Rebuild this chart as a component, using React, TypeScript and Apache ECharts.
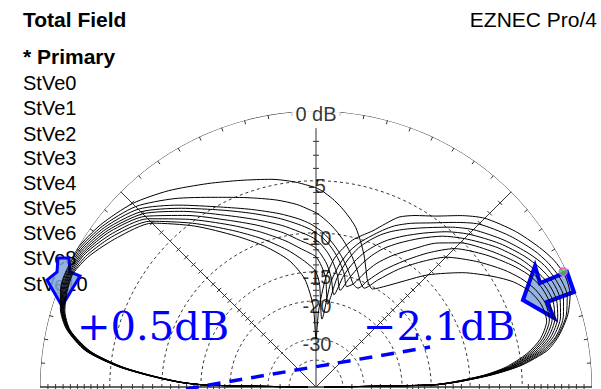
import React, { useEffect, useRef } from 'react';
import * as echarts from 'echarts';

// Elevation angle sampled along the half plot: 0 = left horizon, 90 = zenith, 180 = right horizon
const ELEVATION_ANGLES = [0, 1, 2, 4, 6, 9, 13, 17, 21, 25, 30, 37, 45, 53, 62, 70, 78, 84, 88, 90, 92, 95, 98, 101, 104, 107, 110, 113, 116, 120, 125, 130, 135, 142, 148, 152, 156, 160, 164, 168, 171, 174, 176, 178, 179, 180];

// Total field in dB for each trace
const STVE0_DB = [-60, -15.8, -12.0, -8.4, -5.5, -2.85, -1.3, -0.55, -0.15, 0.0, 0.0, -0.4, -1.06, -2.0, -3.1, -3.9, -4.5, -5.0, -5.4, -5.6, -5.9, -6.5, -7.2, -8.0, -8.9, -10.2, -11.6, -13.2, -14.6, -15.3, -13.8, -11.8, -9.5, -6.8, -4.8, -3.6, -2.8, -2.4, -2.4, -3.2, -4.4, -6.3, -8.5, -12.2, -15.2, -60];
const STVE1_DB = [-60, -15.9, -12.05, -8.45, -5.55, -2.9, -1.33, -0.6, -0.2, -0.06, -0.1, -0.55, -1.35, -2.7, -4.3, -5.4, -6.3, -7.0, -7.6, -7.9, -8.3, -9.0, -9.8, -10.7, -11.7, -12.8, -14.0, -15.2, -15.8, -13.8, -11.2, -9.0, -7.0, -5.2, -3.8, -3.0, -2.4, -2.1, -2.2, -3.0, -4.2, -6.1, -8.4, -12.1, -15.1, -60];
const STVE2_DB = [-60, -15.95, -12.1, -8.5, -5.6, -2.95, -1.36, -0.63, -0.26, -0.13, -0.2, -0.7, -1.6, -3.3, -5.2, -6.5, -7.6, -8.4, -9.0, -9.4, -9.8, -10.6, -11.5, -12.5, -13.6, -14.8, -15.9, -16.2, -14.5, -12.3, -10.0, -7.8, -5.9, -4.3, -3.1, -2.4, -1.95, -1.8, -2.0, -2.8, -4.0, -5.9, -8.3, -12.0, -15.0, -60];
const STVE3_DB = [-60, -16.0, -12.15, -8.55, -5.65, -3.0, -1.4, -0.67, -0.32, -0.19, -0.3, -0.85, -1.85, -3.6, -5.5, -6.9, -8.1, -9.0, -9.6, -10.0, -10.4, -11.2, -12.2, -13.4, -14.8, -16.6, -15.8, -13.8, -12.0, -10.3, -8.5, -6.6, -5.2, -3.8, -2.7, -2.1, -1.7, -1.55, -1.8, -2.6, -3.8, -5.8, -8.2, -11.9, -14.9, -60];
const STVE4_DB = [-60, -16.05, -12.2, -8.6, -5.7, -3.05, -1.43, -0.7, -0.38, -0.25, -0.4, -1.0, -2.05, -3.9, -6.0, -7.5, -8.8, -9.8, -10.4, -10.8, -11.3, -12.3, -13.6, -15.3, -17.5, -15.2, -13.0, -11.3, -10.0, -8.7, -7.2, -5.8, -4.7, -3.3, -2.3, -1.8, -1.4, -1.3, -1.6, -2.4, -3.6, -5.6, -8.0, -11.8, -14.8, -60];
const STVE5_DB = [-60, -16.1, -12.25, -8.65, -5.75, -3.1, -1.46, -0.73, -0.44, -0.31, -0.5, -1.15, -2.3, -4.3, -6.5, -8.1, -9.6, -10.8, -11.4, -11.8, -12.5, -13.8, -15.8, -18.5, -15.0, -12.8, -11.2, -10.0, -9.0, -7.9, -6.6, -5.3, -4.2, -2.9, -1.95, -1.45, -1.1, -1.05, -1.4, -2.2, -3.4, -5.5, -7.9, -11.7, -14.8, -60];
const STVE6_DB = [-60, -16.15, -12.3, -8.7, -5.8, -3.15, -1.49, -0.77, -0.5, -0.38, -0.6, -1.35, -2.55, -4.7, -7.0, -8.8, -10.5, -11.8, -12.5, -12.9, -13.8, -15.8, -20.5, -15.5, -12.8, -11.0, -9.8, -8.8, -8.0, -7.1, -6.0, -4.8, -3.7, -2.5, -1.6, -1.1, -0.85, -0.8, -1.2, -2.0, -3.2, -5.3, -7.8, -11.6, -14.7, -60];
const STVE8_DB = [-60, -16.2, -12.35, -8.75, -5.85, -3.2, -1.52, -0.8, -0.55, -0.44, -0.75, -1.55, -2.8, -5.1, -7.6, -9.6, -11.6, -13.2, -14.3, -15.0, -17.0, -24.0, -16.5, -13.5, -11.6, -10.3, -9.3, -8.3, -7.4, -6.5, -5.5, -4.3, -3.1, -2.0, -1.2, -0.8, -0.55, -0.55, -1.0, -1.9, -3.0, -5.1, -7.7, -11.5, -14.7, -60];
const STVE10_DB = [-60, -16.3, -12.4, -8.8, -5.9, -3.25, -1.55, -0.85, -0.6, -0.5, -0.9, -1.8, -3.0, -5.4, -8.2, -10.5, -13.0, -16.0, -21.0, -30.0, -22.0, -16.0, -13.0, -11.5, -10.3, -9.5, -8.7, -7.6, -6.5, -5.7, -4.8, -3.6, -2.5, -1.5, -0.8, -0.4, -0.2, -0.35, -0.9, -1.8, -2.8, -5.0, -7.6, -11.5, -14.7, -60];

const TRACE_NAMES = ['StVe0', 'StVe1', 'StVe2', 'StVe3', 'StVe4', 'StVe5', 'StVe6', 'StVe8', 'StVe10'];
const TRACES = [STVE0_DB, STVE1_DB, STVE2_DB, STVE3_DB, STVE4_DB, STVE5_DB, STVE6_DB, STVE8_DB, STVE10_DB];

// Grid
const RING_DB = [-5, -10, -15, -20, -30, -40];
const RING_LABEL_DB = [-5, -10, -15, -20, -30];
const RING_LABELS = ['-5', '-10', '-15', '-20', '-30'];
const SPOKE_ANGLES = [45, 135];
const SPOKE_TICK_DB = [-1, -2, -3, -4, -6, -7, -8, -9, -11, -12, -13, -14, -16, -17, -18, -19, -22.5, -25, -27.5];
const AXIS_TICK_DB = [-0.5, -1, -1.5, -2, -2.5, -3, -3.5, -4, -4.5, -6, -7, -8, -9, -11, -12, -13, -14, -16, -17, -18, -19, -22.5, -25, -27.5, -35];
const RIGHT_PEAK_MARK = { db: -0.2, angle: 155 };

const LEGEND_Y = [83, 108, 133.5, 158, 183, 208, 233, 258, 284];

// ARRL log-periodic radial scale: every 2 dB is 0.89 of the radius
const arrl = (db: number) => Math.pow(0.89, -db / 2);

const FONT = '"Liberation Sans", Arial, sans-serif';

export default function App() {
  const ref = useRef<HTMLDivElement>(null);
  useEffect(() => {
    if (!ref.current) return;
    const chart = echarts.init(ref.current, undefined, { renderer: 'svg' });

    const halfCircle = (db: number) => {
      const pts: number[][] = [];
      for (let a = 0; a <= 180; a += 1) pts.push([arrl(db), a]);
      return pts;
    };

    const series: any[] = [];
    RING_DB.forEach((db) => {
      series.push({
        type: 'line', coordinateSystem: 'polar', data: halfCircle(db), symbol: 'none', silent: true,
        lineStyle: { color: '#333', width: 1, type: [3, 3] }, z: 1,
      });
    });
    series.push({
      type: 'line', coordinateSystem: 'polar', data: halfCircle(0), symbol: 'none', silent: true,
      lineStyle: { color: '#333', width: 1 }, z: 1,
    });
    SPOKE_ANGLES.forEach((a) => {
      series.push({
        type: 'line', coordinateSystem: 'polar', data: [[0, a], [1, a]], symbol: 'none', silent: true,
        lineStyle: { color: '#333', width: 1 }, z: 1,
      });
    });
    series.push({
      type: 'line', coordinateSystem: 'polar', data: [[0, 90], [arrl(-1.1), 90]], symbol: 'none', silent: true,
      lineStyle: { color: '#333', width: 1 }, z: 1,
    });
    series.push({
      type: 'line', coordinateSystem: 'polar', data: [[1, 0], [0, 0], [1, 180]], symbol: 'none', silent: true,
      lineStyle: { color: '#333', width: 1.5 }, z: 1,
    });

    // ticks
    const ticks: number[][] = [];
    for (let a = 5; a < 180; a += 5) ticks.push([1, a, 1]);
    SPOKE_ANGLES.forEach((a) => SPOKE_TICK_DB.forEach((db) => ticks.push([arrl(db), a, 0])));
    SPOKE_TICK_DB.filter((db) => db <= -2).forEach((db) => ticks.push([arrl(db), 90, 0]));
    [0, 180].forEach((a) => AXIS_TICK_DB.forEach((db) => ticks.push([arrl(db), a, 0])));
    series.push({
      type: 'custom', coordinateSystem: 'polar', data: ticks, silent: true, z: 1,
      renderItem: (params: any, api: any) => {
        const r = api.value(0);
        const a = api.value(1);
        const kind = api.value(2);
        const p = api.coord([r, a]);
        if (kind === 1) {
          const q = api.coord([r - 4 / 276, a]);
          return { type: 'line', shape: { x1: p[0], y1: p[1], x2: q[0], y2: q[1] }, style: { stroke: '#333', lineWidth: 1 } };
        }
        const c = api.coord([0, a]);
        let ux = p[0] - c[0];
        let uy = p[1] - c[1];
        const len = Math.hypot(ux, uy) || 1;
        ux /= len; uy /= len;
        const px = -uy * 3;
        const py = ux * 3;
        return { type: 'line', shape: { x1: p[0] - px, y1: p[1] - py, x2: p[0] + px, y2: p[1] + py }, style: { stroke: '#333', lineWidth: 1 } };
      },
    });

    // ring labels
    series.push({
      type: 'scatter', coordinateSystem: 'polar', symbolSize: 0, silent: true, z: 6,
      data: RING_LABEL_DB.map((db, i) => ({ value: [arrl(db), 90], name: RING_LABELS[i] })),
      label: { show: true, formatter: '{b}', position: 'inside', offset: [1, 5], color: '#000', fontSize: 20, fontFamily: FONT },
    });
    series.push({
      type: 'scatter', coordinateSystem: 'polar', symbolSize: 0, silent: true, z: 6,
      data: [{ value: [1, 90], name: '0 dB' }],
      label: { show: true, formatter: '{b}', position: 'inside', offset: [0, 3], color: '#000', fontSize: 20, fontFamily: FONT, backgroundColor: '#fff', padding: [1, 4] },
    });

    // pattern traces
    TRACES.forEach((vals, i) => {
      series.push({
        name: TRACE_NAMES[i], type: 'line', coordinateSystem: 'polar', symbol: 'none', silent: true, z: 5,
        smooth: 0.25,
        data: vals.map((db, k) => [arrl(db), ELEVATION_ANGLES[k]]),
        lineStyle: { color: '#000', width: 1 },
      });
    });

    series.push({
      type: 'scatter', coordinateSystem: 'polar', silent: true, z: 7, symbol: 'circle', symbolSize: 8,
      data: [[arrl(RIGHT_PEAK_MARK.db), RIGHT_PEAK_MARK.angle]],
      itemStyle: { color: '#44dd44', borderColor: '#ff44ff', borderWidth: 1.5 },
    });

    const graphic: any[] = [
      { type: 'text', x: 23, y: 19, z: 1, style: { text: 'Total Field', fill: '#000', fontSize: 21, fontWeight: 'bold', fontFamily: FONT, align: 'left', verticalAlign: 'middle', textAlign: 'left', textVerticalAlign: 'middle' } },
      { type: 'text', x: 597, y: 19, z: 1, style: { text: 'EZNEC Pro/4', fill: '#000', fontSize: 21, fontFamily: FONT, align: 'right', verticalAlign: 'middle', textAlign: 'right', textVerticalAlign: 'middle' } },
      { type: 'text', x: 23, y: 56.5, z: 1, style: { text: '* Primary', fill: '#000', fontSize: 21, fontWeight: 'bold', fontFamily: FONT, align: 'left', verticalAlign: 'middle', textAlign: 'left', textVerticalAlign: 'middle' } },
      ...TRACE_NAMES.map((n, i) => ({ type: 'text', x: 23, y: LEGEND_Y[i], z: 1, style: { text: n, fill: '#000', fontSize: 20, fontFamily: FONT, align: 'left', verticalAlign: 'middle', textAlign: 'left', textVerticalAlign: 'middle' } })),
      // annotation arrows
      { type: 'polygon', z: 3, shape: { points: [[523, 300], [535, 266], [540, 283], [567, 272], [574, 292], [547, 302], [554, 318]] }, style: { fill: 'rgba(130,165,220,0.85)', stroke: '#0000ff', lineWidth: 4, lineJoin: 'miter' } },
      { type: 'polygon', z: 3, shape: { points: [[58, 258], [69, 258], [70, 272], [80, 276], [62, 306], [47, 280], [57, 272]] }, style: { fill: 'rgba(130,165,220,0.85)', stroke: '#0000ff', lineWidth: 3, lineJoin: 'miter' } },
      { type: 'line', z: 10, shape: { x1: 186, y1: 389, x2: 430, y2: 347 }, style: { stroke: '#0000ff', lineWidth: 3.5, lineDash: [13, 9] } },
      { type: 'text', x: 77, y: 326, z: 10, style: { text: '+0.5dB', fill: '#0000ff', fontSize: 40, fontFamily: '"DejaVu Serif", serif', align: 'left', verticalAlign: 'middle', textAlign: 'left', textVerticalAlign: 'middle' } },
      { type: 'text', x: 363, y: 326, z: 10, style: { text: '\u22122.1dB', fill: '#0000ff', fontSize: 40, fontFamily: '"DejaVu Serif", serif', align: 'left', verticalAlign: 'middle', textAlign: 'left', textVerticalAlign: 'middle' } },
    ];

    chart.setOption({
      animation: false,
      backgroundColor: '#fff',
      polar: { center: [316, 387], radius: 276 },
      angleAxis: {
        type: 'value', min: 0, max: 360, startAngle: 180, clockwise: true,
        axisLine: { show: false }, axisTick: { show: false }, axisLabel: { show: false }, splitLine: { show: false },
      },
      radiusAxis: {
        type: 'value', min: 0, max: 1,
        axisLine: { show: false }, axisTick: { show: false }, axisLabel: { show: false }, splitLine: { show: false },
      },
      series,
      graphic,
    });
    return () => chart.dispose();
  }, []);
  return <div ref={ref} style={{ position: 'absolute', left: 0, top: 0, width: 601, height: 389, background: '#fff' }} />;
}
